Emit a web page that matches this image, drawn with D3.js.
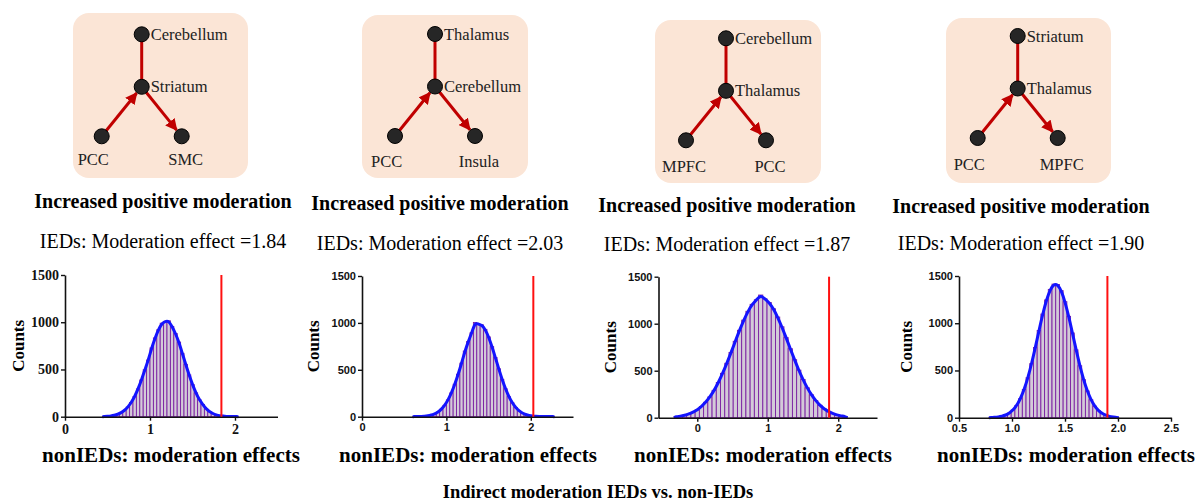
<!DOCTYPE html>
<html>
<head>
<meta charset="utf-8">
<script src="https://cdn.jsdelivr.net/npm/d3@7"></script>
<style>
  body { margin: 0; background: #fff; }
  svg { display: block; }
</style>
</head>
<body>
<div id="svg-container"></div>
<script>
// ---------- data ----------
var effects = [1.84, 2.03, 1.87, 1.90];

// pathway nodes: top -- mid, left -> mid -> right
var topNodes = ["Cerebellum", "Thalamus", "Cerebellum", "Striatum"];
var midNodes = ["Striatum", "Cerebellum", "Thalamus", "Thalamus"];
var leftNodes = ["PCC", "PCC", "MPFC", "PCC"];
var rightNodes = ["SMC", "Insula", "PCC", "MPFC"];

var headline = "Increased positive moderation";
var xTitle = "nonIEDs: moderation effects";
var yTitle = "Counts";
var mainTitle = "Indirect moderation IEDs vs. non-IEDs";

// histogram bins (first bin centre, bin width) and counts
var binStart = [0.46, 0.62, -0.30, 0.80];
var binStep = [0.04, 0.04, 0.06, 0.035];

var counts1 = [2, 5, 8, 15, 25, 42, 66, 102, 150, 214,
  294, 389, 497, 600, 728, 834, 921, 990, 1009, 1015,
  955, 881, 790, 671, 554, 442, 340, 252, 180, 130,
  83, 53, 33, 19, 11, 6, 3, 2, 1, 1];
var counts2 = [1, 1, 3, 5, 9, 17, 30, 49, 79, 121,
  179, 254, 346, 453, 571, 700, 802, 895, 1005, 985,
  979, 931, 851, 747, 631, 511, 398, 298, 214, 148,
  98, 63, 38, 23, 13, 7, 4, 2, 1, 1, 1, 1];
var counts3 = [10, 16, 26, 39, 58, 84, 119, 164, 221, 291,
  375, 472, 579, 694, 813, 930, 1038, 1132, 1206, 1255,
  1305, 1265, 1225, 1159, 1071, 967, 852, 734, 617, 506,
  406, 318, 243, 182, 132, 94, 66, 45, 30, 19, 12];
var counts4 = [2, 4, 8, 15, 27, 48, 81, 130, 202, 298,
  423, 573, 743, 923, 1097, 1247, 1358, 1414, 1410, 1345,
  1228, 1073, 897, 718, 550, 403, 283, 190, 122, 75,
  44, 25, 13, 7, 3];
var allCounts = [counts1, counts2, counts3, counts4];

var xDomains = [[0, 2.5], [0, 2.5], [-0.55, 2.55], [0.5, 2.5]];
var xTicks = [[0, 1, 2], [0, 1, 2], [0, 1, 2], [0.5, 1.0, 1.5, 2.0, 2.5]];
var yTicks = [0, 500, 1000, 1500];

// ---------- layout ----------
var W = 1196, H = 502;
var serif = "'Liberation Serif', 'Times New Roman', serif";
var sans = "'Liberation Sans', Arial, sans-serif";
var red = "#c00000";

var boxes = [
  { x: 73, y: 13, w: 175, h: 165, cx: 141.7, cy: 34.3 },
  { x: 362, y: 15, w: 166, h: 163, cx: 435, cy: 34 },
  { x: 655, y: 20, w: 166, h: 163, cx: 726, cy: 38.3 },
  { x: 946, y: 18, w: 165, h: 165, cx: 1017.7, cy: 36 }
];
var textCx = [163, 440, 727, 1021];
var headY = [208, 210, 212, 213];
var effY = [248, 250, 251, 250];
var xTitleCx = [171, 468, 763, 1066];

var plots = [
  { left: 65, right: 277.5, y0: 416.7, y1: 275, tickFont: serif, tickPx: 14, yLab: 18 },
  { left: 362, right: 573, y0: 416.7, y1: 276, tickFont: sans, tickPx: 11, yLab: 313 },
  { left: 658.5, right: 877, y0: 417.7, y1: 276.7, tickFont: sans, tickPx: 11, yLab: 610 },
  { left: 959, right: 1171, y0: 417.7, y1: 276, tickFont: sans, tickPx: 11, yLab: 906 }
];

var svg = d3.select("#svg-container").append("svg")
    .attr("width", W)
    .attr("height", H);

svg.append("defs").append("marker")
    .attr("id", "arrow")
    .attr("viewBox", "0 0 10 10")
    .attr("refX", 9)
    .attr("refY", 5)
    .attr("markerWidth", 4)
    .attr("markerHeight", 4)
    .attr("orient", "auto")
  .append("path")
    .attr("d", "M0,0 L10,5 L0,10 z")
    .attr("fill", red);

// ---------- pathway diagrams ----------
boxes.forEach(function(b, i) {
  var g = svg.append("g").attr("class", "diagram");

  g.append("rect")
      .attr("x", b.x).attr("y", b.y)
      .attr("width", b.w).attr("height", b.h)
      .attr("rx", 16).attr("ry", 16)
      .attr("fill", "#fbe5d6");

  var nTop = { x: b.cx, y: b.cy, name: topNodes[i] };
  var nMid = { x: b.cx, y: b.cy + 52.5, name: midNodes[i] };
  var nLeft = { x: b.cx - 40, y: b.cy + 102, name: leftNodes[i] };
  var nRight = { x: b.cx + 40, y: b.cy + 102, name: rightNodes[i] };
  var r = 7.5;

  // plain link top - mid
  g.append("line")
      .attr("x1", nTop.x).attr("y1", nTop.y)
      .attr("x2", nMid.x).attr("y2", nMid.y)
      .attr("stroke", red).attr("stroke-width", 3);

  // arrows left -> mid -> right, stopping at node edge
  [[nLeft, nMid], [nMid, nRight]].forEach(function(p) {
    var dx = p[1].x - p[0].x, dy = p[1].y - p[0].y;
    var len = Math.sqrt(dx * dx + dy * dy);
    g.append("line")
        .attr("x1", p[0].x).attr("y1", p[0].y)
        .attr("x2", p[1].x - dx / len * (r + 0.5))
        .attr("y2", p[1].y - dy / len * (r + 0.5))
        .attr("stroke", red).attr("stroke-width", 3)
        .attr("marker-end", "url(#arrow)");
  });

  g.selectAll("circle")
    .data([nTop, nMid, nLeft, nRight])
    .enter().append("circle")
      .attr("cx", function(d) { return d.x; })
      .attr("cy", function(d) { return d.y; })
      .attr("r", r)
      .attr("fill", "#262626")
      .attr("stroke", "#000")
      .attr("stroke-width", 1);

  // labels right of top & mid nodes
  [nTop, nMid].forEach(function(n) {
    g.append("text")
        .attr("x", n.x + 9).attr("y", n.y + 5.5)
        .attr("font-family", serif).attr("font-size", 16.5)
        .attr("fill", "#222")
        .text(n.name);
  });
  // labels below bottom nodes
  g.append("text")
      .attr("x", nLeft.x - 24).attr("y", b.y + 152)
      .attr("font-family", serif).attr("font-size", 16.5)
      .attr("fill", "#222")
      .text(nLeft.name);
  g.append("text")
      .attr("x", nRight.x + 4).attr("y", b.y + 152)
      .attr("text-anchor", "middle")
      .attr("font-family", serif).attr("font-size", 16.5)
      .attr("fill", "#222")
      .text(nRight.name);

  // captions
  svg.append("text")
      .attr("x", textCx[i]).attr("y", headY[i])
      .attr("text-anchor", "middle")
      .attr("font-family", serif).attr("font-size", 20).attr("font-weight", "bold")
      .text(headline);
  svg.append("text")
      .attr("x", textCx[i]).attr("y", effY[i])
      .attr("text-anchor", "middle")
      .attr("font-family", serif).attr("font-size", 20)
      .text("IEDs: Moderation effect =" + effects[i].toFixed(2));
});

// ---------- histograms ----------
plots.forEach(function(p, i) {
  var counts = allCounts[i];
  var step = binStep[i];
  var bins = counts.map(function(c, k) {
    return { x: binStart[i] + k * step, n: c };
  });

  var x = d3.scaleLinear().domain(xDomains[i]).range([p.left, p.right]);
  var y = d3.scaleLinear().domain([0, 1500]).range([p.y0, p.y1]);

  var g = svg.append("g").attr("class", "hist");

  // bars
  g.selectAll("rect")
    .data(bins)
    .enter().append("rect")
      .attr("x", function(d) { return x(d.x - step / 2); })
      .attr("width", function(d) { return x(d.x + step / 2) - x(d.x - step / 2); })
      .attr("y", function(d) { return y(d.n); })
      .attr("height", function(d) { return y(0) - y(d.n); })
      .attr("fill", "#d3cad8")
      .attr("stroke", "#7b1fa2")
      .attr("stroke-width", 0.9);

  // fitted curve through the bin tops
  var pts = [[bins[0].x - step / 2, 0]]
    .concat(bins.map(function(d) { return [d.x, d.n]; }))
    .concat([[bins[bins.length - 1].x + step / 2, 0]]);
  g.append("path")
      .datum(pts)
      .attr("fill", "none")
      .attr("stroke", "#1414ff")
      .attr("stroke-width", 3)
      .attr("d", d3.line()
        .x(function(d) { return x(d[0]); })
        .y(function(d) { return y(d[1]); })
        .curve(d3.curveBasis));

  // axes
  var fmt = i === 3 ? d3.format(".1f") : d3.format("d");
  var xAxis = g.append("g")
      .attr("transform", "translate(0," + p.y0 + ")")
      .call(d3.axisBottom(x).tickValues(xTicks[i]).tickFormat(fmt).tickSize(4).tickSizeOuter(0).tickPadding(3));
  var yAxis = g.append("g")
      .attr("transform", "translate(" + p.left + ",0)")
      .call(d3.axisLeft(y).tickValues(yTicks).tickFormat(d3.format("d")).tickSize(4).tickSizeOuter(0).tickPadding(2));

  [xAxis, yAxis].forEach(function(a) {
    a.select(".domain").attr("stroke", "#111").attr("stroke-width", 1.6);
    a.selectAll(".tick line").attr("stroke", "#111").attr("stroke-width", 1.4);
    a.selectAll("text")
        .attr("font-family", p.tickFont)
        .attr("font-size", p.tickPx)
        .attr("font-weight", "bold")
        .attr("fill", "#111");
  });

  // observed IED effect
  g.append("line")
      .attr("x1", x(effects[i])).attr("x2", x(effects[i]))
      .attr("y1", y(1500)).attr("y2", y(0))
      .attr("stroke", "#ff1010").attr("stroke-width", 2);

  // axis titles
  svg.append("text")
      .attr("transform", "translate(" + p.yLab + "," + ((p.y0 + p.y1) / 2) + ") rotate(-90)")
      .attr("text-anchor", "middle")
      .attr("dy", "0.35em")
      .attr("font-family", serif).attr("font-size", 17).attr("font-weight", "bold")
      .text(yTitle);
  svg.append("text")
      .attr("x", xTitleCx[i]).attr("y", 462)
      .attr("text-anchor", "middle")
      .attr("font-family", serif).attr("font-size", 21).attr("font-weight", "bold")
      .text(xTitle);
});

svg.append("text")
    .attr("x", 598).attr("y", 498)
    .attr("text-anchor", "middle")
    .attr("font-family", serif).attr("font-size", 18.5).attr("font-weight", "bold")
    .text(mainTitle);
</script>
</body>
</html>
